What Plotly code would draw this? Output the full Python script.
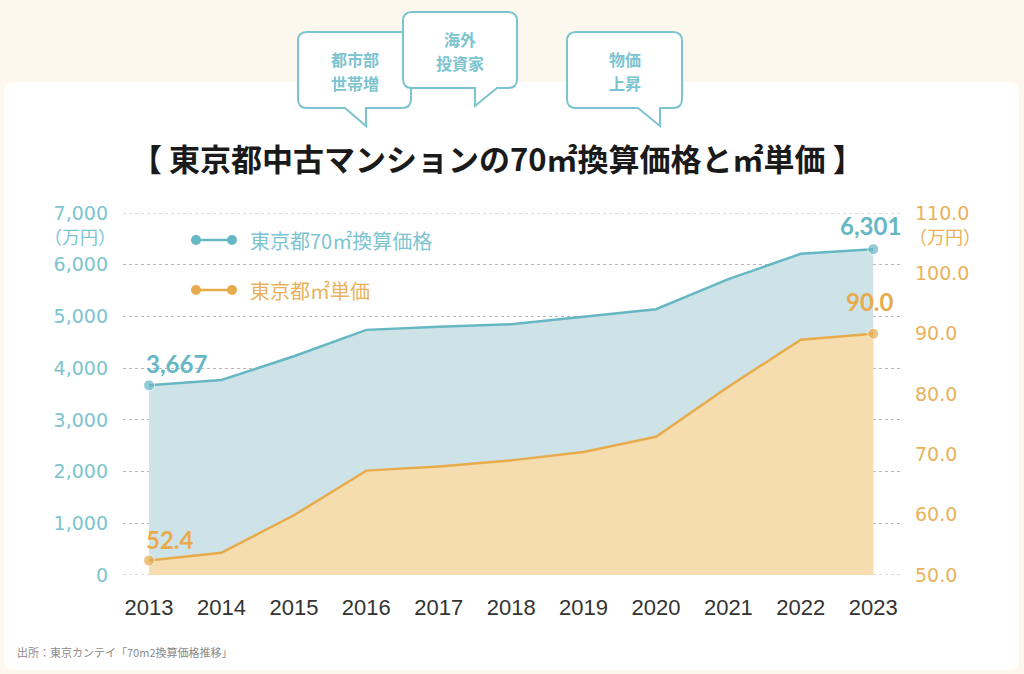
import plotly.graph_objects as go

# data (万円)
years = [2013, 2014, 2015, 2016, 2017, 2018, 2019, 2020, 2021, 2022, 2023]
price_70 = [3667, 3770, 4230, 4740, 4800, 4850, 4995, 5140, 5720, 6210, 6301]
unit_price = [52.4, 53.7, 59.9, 67.3, 68.0, 69.0, 70.4, 72.9, 81.2, 89.0, 90.0]

left_ticks = [0, 1000, 2000, 3000, 4000, 5000, 6000, 7000]
right_ticks = [50, 60, 70, 80, 90, 100, 110]

series_names = ["東京都70㎡換算価格", "東京都㎡単価"]
bubble_texts = [("都市部", "世帯増"), ("海外", "投資家"), ("物価", "上昇")]
title_text = "【 東京都中古マンションの70㎡換算価格と㎡単価 】"
source_text = "出所：東京カンテイ「70m2換算価格推移」"

TEAL = "#66b7c4"
TEAL_TXT = "#7cc4cf"
TEAL_FILL = "#cde3e8"
ORANGE = "#e8ab4c"
ORANGE_TXT = "#e9b25a"
ORANGE_FILL = "#f5ddb0"
JP = "Noto Sans CJK JP"
NUM = "DejaVu Sans"

W, H = 1024, 674
ML, MR, MT, MB = 123, 124, 213, 99


def px(x):
    return (x - ML) / (W - ML - MR)


def py(y):
    return (H - MB - y) / (H - MT - MB)


def rounded_box(x0, y0, x1, y1, r, tail=None):
    pts = []
    pts.append(f"M {px(x0 + r)} {py(y0)}")
    pts.append(f"L {px(x1 - r)} {py(y0)}")
    pts.append(f"Q {px(x1)} {py(y0)} {px(x1)} {py(y0 + r)}")
    pts.append(f"L {px(x1)} {py(y1 - r)}")
    pts.append(f"Q {px(x1)} {py(y1)} {px(x1 - r)} {py(y1)}")
    if tail:
        for tx, ty in tail:
            pts.append(f"L {px(tx)} {py(ty)}")
    pts.append(f"L {px(x0 + r)} {py(y1)}")
    pts.append(f"Q {px(x0)} {py(y1)} {px(x0)} {py(y1 - r)}")
    pts.append(f"L {px(x0)} {py(y0 + r)}")
    pts.append(f"Q {px(x0)} {py(y0)} {px(x0 + r)} {py(y0)}")
    return " ".join(pts) + " Z"


def note(x, y, text, size, color, family=JP, xanchor="center", **kw):
    return dict(x=px(x), y=py(y), xref="paper", yref="paper", text=text,
                showarrow=False, xanchor=xanchor, yanchor="middle",
                font=dict(family=family, size=size, color=color), **kw)


fig = go.Figure()

fig.add_trace(go.Scatter(
    x=years, y=price_70, name=series_names[0], mode="lines+markers",
    line=dict(color=TEAL, width=2.5), marker=dict(size=[11] + [0] * 9 + [11], color=TEAL),
    fill="tozeroy", fillcolor=TEAL_FILL, yaxis="y", hoverinfo="skip",
))
fig.add_trace(go.Scatter(
    x=years, y=unit_price, name=series_names[1], mode="lines+markers",
    line=dict(color=ORANGE, width=2.5), marker=dict(size=[11] + [0] * 9 + [11], color=ORANGE),
    fill="tozeroy", fillcolor=ORANGE_FILL, yaxis="y2", hoverinfo="skip",
))

shapes = []
# white card
shapes.append(dict(type="path", xref="paper", yref="paper", layer="below",
                   path=rounded_box(4, 82, 1019, 670, 10),
                   fillcolor="white", line=dict(width=0)))
# edge gridlines (0 and 7000) that plotly skips
for v in (left_ticks[0], left_ticks[-1]):
    shapes.append(dict(type="line", xref="paper", yref="y", layer="below",
                       x0=0, x1=1, y0=v, y1=v,
                       line=dict(color="#b8b8b8", width=1, dash="dot")))
# speech bubbles
bubbles = [
    (298, 32, 411, 108, [(366, 108), (366, 126), (345, 108)]),
    (403, 12, 517, 88, [(497, 88), (475, 106), (475, 88)]),
    (567, 32, 682, 108, [(660, 108), (660, 126), (638, 108)]),
]
for x0, y0, x1, y1, tail in bubbles:
    shapes.append(dict(type="path", xref="paper", yref="paper",
                       path=rounded_box(x0, y0, x1, y1, 9, tail),
                       fillcolor="white", line=dict(color=TEAL_TXT, width=2)))

# legend symbols
for yy, col in [(240, TEAL), (290, ORANGE)]:
    shapes.append(dict(type="line", xref="paper", yref="paper",
                       x0=px(196), x1=px(232), y0=py(yy), y1=py(yy),
                       line=dict(color=col, width=2.5)))
    for cx in (196, 232):
        shapes.append(dict(type="circle", xref="paper", yref="paper",
                           x0=px(cx - 5), x1=px(cx + 5), y0=py(yy - 5), y1=py(yy + 5),
                           fillcolor=col, line=dict(width=0)))

annotations = []
bubble_centers = [(355, 71), (460, 51), (625, 71)]
for (cx, cy), (l1, l2) in zip(bubble_centers, bubble_texts):
    annotations.append(note(cx, cy - 12, f"<b>{l1}</b>", 16, TEAL_TXT, borderpad=0))
    annotations.append(note(cx, cy + 12, f"<b>{l2}</b>", 16, TEAL_TXT, borderpad=0))

annotations.append(note(497, 157, f"<b>{title_text}</b>", 31, "#1a1a1a"))

annotations.append(note(248, 240, series_names[0], 20, TEAL_TXT, xanchor="left"))
annotations.append(note(248, 290, series_names[1], 20, ORANGE_TXT, xanchor="left"))

# units
annotations.append(note(80, 236, "（万円）", 18, TEAL_TXT))
annotations.append(note(945, 236, "（万円）", 18, ORANGE_TXT))

# end point labels
lab = dict(showarrow=False, xref="x")
annotations.append(dict(x=years[0], y=price_70[0], yref="y", xanchor="left",
                        xshift=-5, yshift=22, text=f"<b>{price_70[0]:,}</b>",
                        font=dict(family="Lato", size=24, color=TEAL), **lab))
annotations.append(dict(x=years[-1], y=price_70[-1], yref="y", xanchor="center",
                        xshift=-3, yshift=24, text=f"<b>{price_70[-1]:,}</b>",
                        font=dict(family="Lato", size=24, color=TEAL), **lab))
annotations.append(dict(x=years[0], y=unit_price[0], yref="y2", xanchor="left",
                        xshift=-5, yshift=21, text=f"<b>{unit_price[0]:.1f}</b>",
                        font=dict(family="Lato", size=24, color=ORANGE), **lab))
annotations.append(dict(x=years[-1], y=unit_price[-1], yref="y2", xanchor="center",
                        xshift=-3, yshift=32, text=f"<b>{unit_price[-1]:.1f}</b>",
                        font=dict(family="Lato", size=24, color=ORANGE), **lab))

annotations.append(note(15, 652, source_text, 11, "#8a8a8a", xanchor="left"))

fig.update_layout(
    width=W, height=H,
    margin=dict(l=ML, r=MR, t=MT, b=MB),
    paper_bgcolor="#fdf8ee",
    plot_bgcolor="rgba(0,0,0,0)",
    showlegend=False,
    shapes=shapes,
    annotations=annotations,
    xaxis=dict(range=[2012.64, 2023.37], tickvals=years, showgrid=False, zeroline=False,
               showline=False, ticks="", ticklabelstandoff=17,
               tickfont=dict(family="Liberation Sans", size=22, color="#333333")),
    yaxis=dict(range=[0, 7000], tickvals=left_ticks, tickformat=",", showgrid=True,
               gridcolor="#b8b8b8", griddash="dot", gridwidth=1, zeroline=False,
               showline=False, ticks="", ticklabelstandoff=14,
               tickfont=dict(family=NUM, size=19, color=TEAL_TXT)),
    yaxis2=dict(range=[50, 110], tickvals=right_ticks, tickformat=".1f", overlaying="y",
                side="right", showgrid=False, zeroline=False, showline=False, ticks="",
                ticklabelstandoff=14,
                tickfont=dict(family=NUM, size=19, color=ORANGE_TXT)),
)

fig.write_html("out.html", config={"displayModeBar": False},
               post_script="document.body.style.margin='0';")
